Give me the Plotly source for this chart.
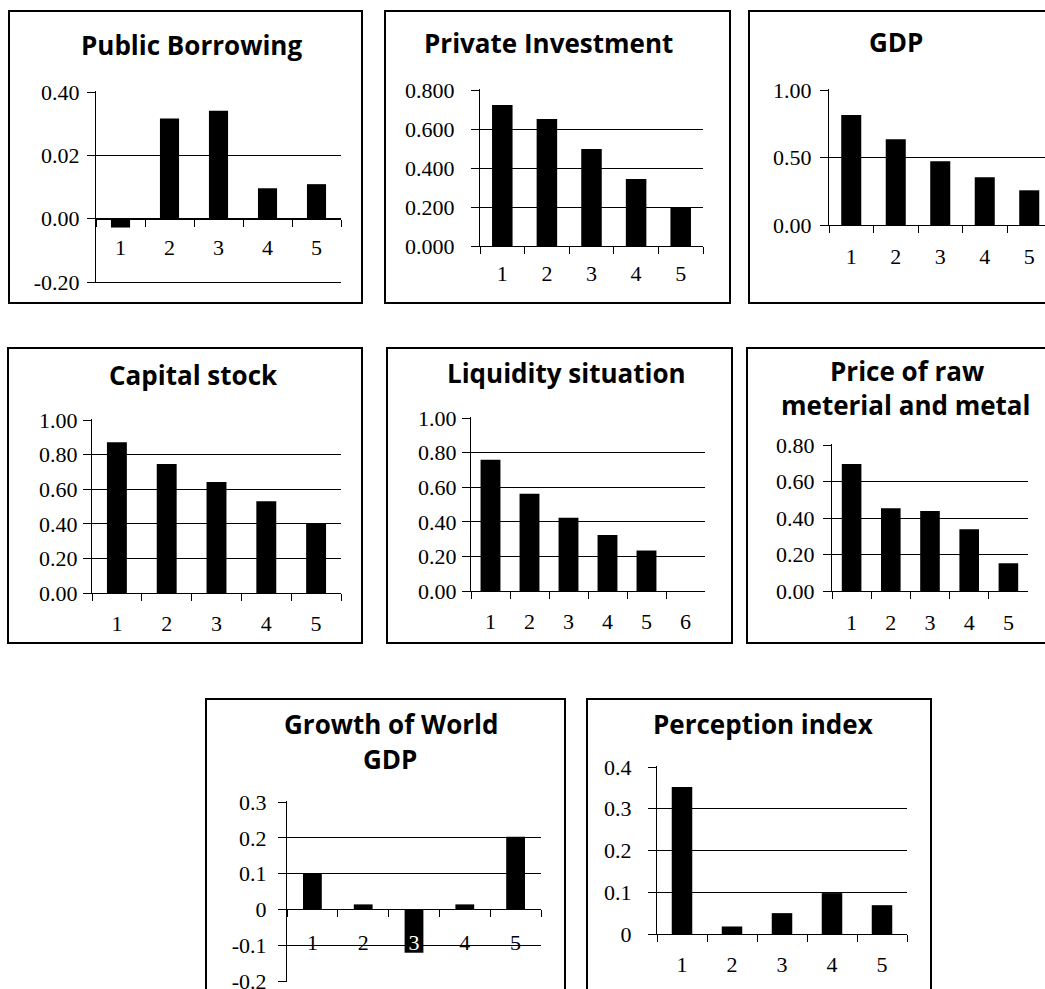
import plotly.graph_objects as go

W, H = 1045, 989

# ---------------- data ----------------
pb_cats = ["1", "2", "3", "4", "5"]
public_borrowing = [-0.028, 0.316, 0.341, 0.096, 0.109]
pb_tickvals = [-0.2, 0.0, 0.2, 0.4]
pb_ticktext = ["-0.20", "0.00", "0.02", "0.40"]

pi_cats = ["1", "2", "3", "4", "5"]
private_investment = [0.723, 0.651, 0.497, 0.343, 0.195]
pi_tickvals = [0.0, 0.2, 0.4, 0.6, 0.8]
pi_ticktext = ["0.000", "0.200", "0.400", "0.600", "0.800"]

gdp_cats = ["1", "2", "3", "4", "5"]
gdp = [0.814, 0.636, 0.473, 0.354, 0.257]
gdp_tickvals = [0.0, 0.5, 1.0]
gdp_ticktext = ["0.00", "0.50", "1.00"]

cs_cats = ["1", "2", "3", "4", "5"]
capital_stock = [0.871, 0.745, 0.641, 0.531, 0.405]
cs_tickvals = [0.0, 0.2, 0.4, 0.6, 0.8, 1.0]
cs_ticktext = ["0.00", "0.20", "0.40", "0.60", "0.80", "1.00"]

liq_cats = ["1", "2", "3", "4", "5", "6"]
liquidity = [0.759, 0.562, 0.423, 0.324, 0.234, None]
liq_tickvals = [0.0, 0.2, 0.4, 0.6, 0.8, 1.0]
liq_ticktext = ["0.00", "0.20", "0.40", "0.60", "0.80", "1.00"]

raw_cats = ["1", "2", "3", "4", "5"]
raw_material = [0.696, 0.454, 0.438, 0.339, 0.152]
raw_tickvals = [0.0, 0.2, 0.4, 0.6, 0.8]
raw_ticktext = ["0.00", "0.20", "0.40", "0.60", "0.80"]

wg_cats = ["1", "2", "3", "4", "5"]
world_gdp_growth = [0.100, 0.014, -0.121, 0.014, 0.203]
wg_tickvals = [-0.2, -0.1, 0.0, 0.1, 0.2, 0.3]
wg_ticktext = ["-0.2", "-0.1", "0", "0.1", "0.2", "0.3"]

per_cats = ["1", "2", "3", "4", "5"]
perception = [0.352, 0.018, 0.050, 0.098, 0.069]
per_tickvals = [0.0, 0.1, 0.2, 0.3, 0.4]
per_ticktext = ["0", "0.1", "0.2", "0.3", "0.4"]

# ---------------- panel layout (pixels) ----------------
panels = [
    dict(cats=pb_cats, vals=public_borrowing, tv=pb_tickvals, tt=pb_ticktext,
         titles=[("Public Borrowing", 191, 44.5)],
         box=(9, 11, 362, 303), plot=(96, 92, 341, 282), xr=None,
         bw=0.39, ystand=3, xstand=9),
    dict(cats=pi_cats, vals=private_investment, tv=pi_tickvals, tt=pi_ticktext,
         titles=[("Private Investment", 548, 43.5)],
         box=(385, 11, 730, 303), plot=(480, 90, 703, 246), xr=None,
         bw=0.46, ystand=12, xstand=8),
    dict(cats=gdp_cats, vals=gdp, tv=gdp_tickvals, tt=gdp_ticktext,
         titles=[("GDP", 896, 42.5)],
         box=(749, 11, 1070, 303), plot=(829, 90, 1045, 225), xr=[-0.5, 4.354],
         bw=0.45, ystand=4, xstand=12),
    dict(cats=cs_cats, vals=capital_stock, tv=cs_tickvals, tt=cs_ticktext,
         titles=[("Capital stock", 193, 375.5)],
         box=(8, 348, 362, 643), plot=(92, 420, 341, 593), xr=None,
         bw=0.40, ystand=1, xstand=11),
    dict(cats=liq_cats, vals=liquidity, tv=liq_tickvals, tt=liq_ticktext,
         titles=[("Liquidity situation", 566, 373)],
         box=(387, 348, 732, 643), plot=(471, 418, 705, 591), xr=None,
         bw=0.51, ystand=1, xstand=11),
    dict(cats=raw_cats, vals=raw_material, tv=raw_tickvals, tt=raw_ticktext,
         titles=[("Price of raw", 907, 371), ("meterial and metal", 906, 405.5)],
         box=(747, 348, 1070, 643), plot=(832, 445, 1028, 591), xr=None,
         bw=0.50, ystand=4, xstand=12),
    dict(cats=wg_cats, vals=world_gdp_growth, tv=wg_tickvals, tt=wg_ticktext,
         titles=[("Growth of World", 391, 724), ("GDP", 390, 759)],
         box=(206, 699, 565, 1010), plot=(287, 802, 541, 981), xr=None,
         bw=0.37, ystand=7, xstand=13, white=[2]),
    dict(cats=per_cats, vals=perception, tv=per_tickvals, tt=per_ticktext,
         titles=[("Perception index", 763, 724)],
         box=(587, 699, 931, 1010), plot=(657, 767, 907, 934), xr=None,
         bw=0.41, ystand=12, xstand=11),
]

TICKFONT = dict(family="Liberation Serif, Times New Roman, serif", size=22, color="black")
TITLEFONT = dict(family="Open Sans, Noto Sans, sans-serif", size=26, color="black")

fig = go.Figure()
layout = dict(width=W, height=H, margin=dict(l=0, r=0, t=0, b=0, pad=0), autosize=False,
              paper_bgcolor="white", plot_bgcolor="white", showlegend=False,
              shapes=[], annotations=[])

for i, p in enumerate(panels, start=1):
    xa = "x" if i == 1 else f"x{i}"
    ya = "y" if i == 1 else f"y{i}"
    xk = "xaxis" if i == 1 else f"xaxis{i}"
    yk = "yaxis" if i == 1 else f"yaxis{i}"
    fig.add_trace(go.Bar(x=p["cats"], y=p["vals"], xaxis=xa, yaxis=ya,
                         width=p["bw"], marker=dict(color="black", line=dict(width=0)),
                         hoverinfo="skip"))
    x0, y0, x1, y1 = p["plot"]
    r0, r1 = min(p["tv"]), max(p["tv"])
    # pad the value range by one pixel on each side so edge gridlines are drawn
    px_val = (r1 - r0) / (y1 - y0)
    rr0, rr1 = r0 - px_val, r1 + px_val
    dx = [x0 / W, x1 / W]
    dy = [1 - (y1 + 1) / H, 1 - (y0 - 1) / H]
    pos = dy[0] + (0 - rr0) / (rr1 - rr0) * (dy[1] - dy[0])
    n = len(p["cats"])
    xticktext = [f"<span style='color:white'>{c}</span>" if k in p.get("white", []) else c
                 for k, c in enumerate(p["cats"])]
    layout[xk] = dict(domain=dx, anchor="free", position=pos, type="category",
                      categoryorder="array", categoryarray=p["cats"],
                      range=p["xr"] if p["xr"] else [-0.5, n - 0.5],
                      tickmode="array", tickvals=p["cats"], ticktext=xticktext,
                      tickson="boundaries", ticks="outside", ticklen=7, tickwidth=1,
                      tickcolor="black", showline=True, linecolor="black", linewidth=1,
                      showgrid=False, zeroline=False, tickfont=TICKFONT, automargin=False,
                      ticklabelstandoff=p["xstand"], ticklabeloverflow="allow",
                      fixedrange=True)
    layout[yk] = dict(domain=dy, anchor=xa, range=[rr0, rr1], tickmode="array",
                      tickvals=p["tv"], ticktext=p["tt"], ticks="outside", ticklen=8,
                      tickwidth=1, tickcolor="black", showline=True, linecolor="black",
                      linewidth=1, showgrid=True, gridcolor="black", gridwidth=1,
                      zeroline=False, tickfont=TICKFONT, automargin=False,
                      ticklabelstandoff=p["ystand"], ticklabeloverflow="allow",
                      fixedrange=True)
    bx0, by0, bx1, by1 = p["box"]
    layout["shapes"].append(dict(type="rect", xref="paper", yref="paper",
                                 x0=bx0 / W, x1=bx1 / W, y0=1 - by1 / H, y1=1 - by0 / H,
                                 line=dict(color="black", width=2), fillcolor="rgba(0,0,0,0)",
                                 layer="above"))
    for text, tx, ty in p["titles"]:
        layout["annotations"].append(dict(text=f"<b>{text}</b>", x=tx / W, y=1 - ty / H,
                                          xref="paper", yref="paper", xanchor="center",
                                          yanchor="middle", showarrow=False, font=TITLEFONT))

fig.update_layout(**layout)
fig.write_html(
    "out.html",
    config={"displayModeBar": False, "staticPlot": True},
    post_script=(
        "document.documentElement.style.margin='0';"
        "document.documentElement.style.overflow='hidden';"
        "document.body.style.margin='0';document.body.style.padding='0';"
        "document.body.style.overflow='hidden';"
        "var d=document.getElementById('{plot_id}');"
        "d.style.position='fixed';d.style.left='0px';d.style.top='0px';"
    ),
)
